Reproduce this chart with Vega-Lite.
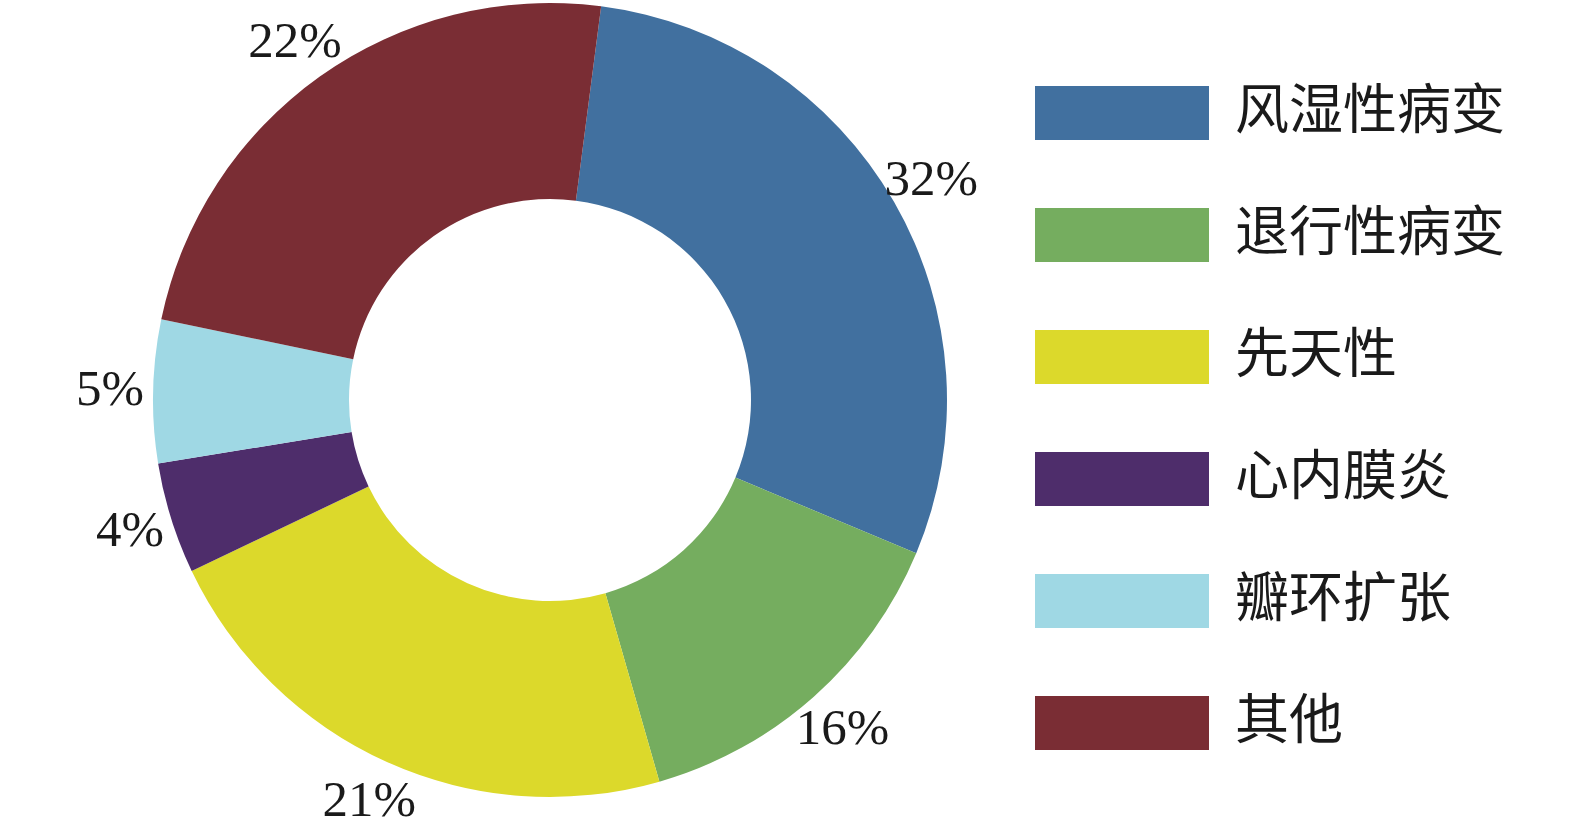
{
  "$schema": "https://vega.github.io/schema/vega-lite/v6.json",
  "width": 1100,
  "height": 800,
  "padding": 0,
  "background": "white",
  "config": {"view": {"stroke": null}},
  "data": {
    "values": [
      {"i": 1, "cat": "风湿性病变", "value": 29.25, "label": "32%"},
      {"i": 2, "cat": "退行性病变", "value": 14.25, "label": "16%"},
      {"i": 3, "cat": "先天性", "value": 22.36, "label": "21%"},
      {"i": 4, "cat": "心内膜炎", "value": 4.53, "label": "4%"},
      {"i": 5, "cat": "瓣环扩张", "value": 5.81, "label": "5%"},
      {"i": 6, "cat": "其他", "value": 23.8, "label": "22%"}
    ]
  },
  "encoding": {
    "theta": {"field": "value", "type": "quantitative", "stack": true, "scale": {"range": [0.1292, 6.4124]}},
    "order": {"field": "i", "type": "quantitative"},
    "color": {
      "field": "cat",
      "type": "nominal",
      "sort": ["风湿性病变", "退行性病变", "先天性", "心内膜炎", "瓣环扩张", "其他"],
      "scale": {
        "domain": ["风湿性病变", "退行性病变", "先天性", "心内膜炎", "瓣环扩张", "其他"],
        "range": ["#41709f", "#75ad5f", "#dcd92b", "#4e2d6b", "#9fd8e4", "#7a2d34"]
      },
      "legend": {
        "title": null,
        "orient": "none",
        "legendX": 1035,
        "legendY": 26,
        "padding": 0,
        "symbolType": "M-1,-0.31H1V0.31H-1Z",
        "symbolSize": 30276,
        "symbolStrokeWidth": 0,
        "symbolOpacity": 1,
        "labelFont": "Noto Sans CJK SC",
        "labelFontSize": 54,
        "labelColor": "#1a1a1a",
        "labelOffset": 26,
        "labelLimit": 500,
        "rowPadding": 8
      }
    }
  },
  "layer": [
    {
      "mark": {"type": "arc", "outerRadius": 397, "innerRadius": 201, "stroke": null}
    },
    {
      "mark": {"type": "text", "radius": 440, "font": "Liberation Serif", "fontSize": 51, "color": "#1a1a1a", "align": "center", "baseline": "middle"},
      "encoding": {
        "text": {"field": "label", "type": "nominal"},
        "color": {"value": "#1a1a1a"}
      }
    }
  ]
}
